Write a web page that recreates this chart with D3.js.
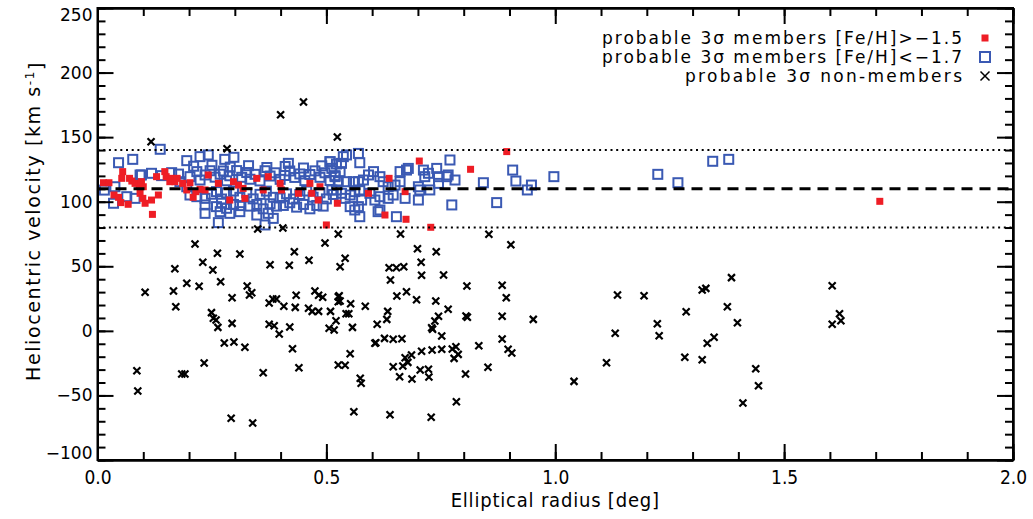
<!DOCTYPE html>
<html>
<head>
<meta charset="utf-8">
<script src="https://d3js.org/d3.v7.min.js"></script>
<style>
body { margin: 0; background: #fff; }
svg { display: block; }
.axis path, .axis line { stroke: #000; stroke-width: 2; }
.axis text { fill: #000; }
</style>
</head>
<body>
<script>
// tick labels
var xTicks = [0, 0.5, 1.0, 1.5, 2.0];
var yTicks = [-100, -50, 0, 50, 100, 150, 200, 250];

// systemic velocity and the 3 sigma band
var vSys = 110, vLow = 80, vHigh = 140;

// legend text
var legendLabels = [
    "probable 3\u03c3 members [Fe/H]>\u22121.5",
    "probable 3\u03c3 members [Fe/H]<\u22121.7",
    "probable 3\u03c3 non-members"
];

// probable members with [Fe/H] > -1.5 : [elliptical radius (deg), velocity (km/s)]
var metalRich = [
    [0.013,114.7],[0.025,114.7],[0.036,105.2],[0.046,103.4],[0.051,99.3],[0.067,98.0],
    [0.055,123.3],[0.053,118.1],[0.070,118.1],[0.075,116.0],[0.082,114.2],[0.091,112.9],
    [0.096,115.5],[0.100,111.6],[0.093,106.5],[0.099,102.6],[0.104,98.8],[0.118,101.3],
    [0.120,90.2],[0.133,105.2],[0.129,119.4],[0.147,123.3],[0.150,119.4],[0.158,115.5],
    [0.162,118.1],[0.169,115.5],[0.174,118.1],[0.186,114.2],[0.195,109.1],[0.202,114.7],
    [0.209,103.4],[0.215,107.8],[0.224,109.6],[0.235,109.1],[0.242,120.7],[0.264,114.2],
    [0.289,101.3],[0.297,115.5],[0.308,112.9],[0.318,110.3],[0.322,102.6],[0.348,118.1],
    [0.362,109.1],[0.373,119.4],[0.399,114.2],[0.402,109.1],[0.439,106.5],[0.464,114.2],
    [0.468,106.5],[0.482,101.3],[0.486,111.6],[0.500,82.0],[0.524,98.8],[0.592,106.5],
    [0.637,118.1],[0.672,107.8],[0.628,89.7],[0.674,86.4],[0.703,131.5],[0.728,80.2],
    [0.815,125.1],[0.894,138.8],[1.709,100.3]
];

// probable members with [Fe/H] < -1.7
var metalPoor = [
    [0.137,140.6],[0.046,130.2],[0.077,132.8],[0.096,120.7],[0.195,131.8],[0.224,134.9],
    [0.242,136.2],[0.278,132.8],[0.298,134.4],[0.417,129.7],[0.508,131.0],[0.522,129.2],
    [0.015,109.0],[0.035,98.8],[0.038,111.6],[0.064,103.9],[0.082,102.6],[0.093,120.7],
    [0.118,122.0],[0.140,120.2],[0.162,122.5],[0.177,121.4],[0.180,115.5],[0.195,111.6],
    [0.202,119.4],[0.217,123.3],[0.224,116.8],[0.235,120.7],[0.246,124.0],[0.257,119.0],
    [0.268,121.3],[0.275,123.8],[0.282,116.2],[0.289,120.1],[0.304,124.1],[0.315,118.9],
    [0.326,122.6],[0.333,117.4],[0.344,121.2],[0.355,116.1],[0.366,124.0],[0.377,119.9],
    [0.388,122.4],[0.399,117.3],[0.409,120.3],[0.420,123.8],[0.431,118.8],[0.442,121.5],
    [0.453,116.3],[0.464,121.1],[0.475,123.9],[0.486,118.9],[0.497,122.4],[0.508,116.4],
    [0.519,120.2],[0.210,127.5],[0.250,128.2],[0.290,126.8],[0.330,127.9],[0.370,126.5],
    [0.410,127.3],[0.450,126.1],[0.490,127.8],
    [0.202,105.2],[0.217,103.9],[0.235,102.6],[0.249,105.8],[0.260,107.8],[0.271,102.1],
    [0.282,106.9],[0.297,108.3],[0.311,103.4],[0.326,106.9],[0.340,102.2],[0.355,105.7],
    [0.369,108.2],[0.384,103.4],[0.399,102.9],[0.413,106.1],[0.428,102.1],[0.442,105.6],
    [0.457,108.3],[0.471,103.5],[0.486,106.9],[0.500,102.2],[0.515,105.6],
    [0.235,97.5],[0.260,96.2],[0.271,98.8],[0.282,94.9],[0.297,97.9],[0.311,97.0],
    [0.333,96.6],[0.348,97.9],[0.362,94.5],[0.377,98.4],[0.391,96.6],[0.406,97.1],
    [0.420,99.2],[0.435,95.8],[0.450,97.9],[0.464,94.5],[0.479,97.1],[0.493,96.6],
    [0.235,91.0],[0.268,92.3],[0.264,83.8],[0.289,91.0],[0.311,92.3],[0.348,89.7],
    [0.373,91.0],[0.384,87.1],[0.366,82.0],
    [0.508,131.0],[0.512,125.8],[0.519,119.4],[0.526,115.5],[0.530,123.3],[0.533,129.7],
    [0.537,134.9],[0.544,136.2],[0.570,137.4],[0.573,130.2],[0.512,109.1],[0.522,109.1],
    [0.533,106.5],[0.541,102.6],[0.552,105.2],[0.562,107.8],[0.573,109.1],[0.577,101.3],
    [0.552,96.2],[0.562,93.6],[0.570,96.2],[0.573,88.4],[0.544,115.5],[0.559,115.5],
    [0.570,115.5],[0.581,116.8],[0.592,120.7],[0.603,123.3],[0.617,119.4],[0.624,115.5],
    [0.635,111.6],[0.650,112.9],[0.661,115.5],[0.661,123.3],[0.675,124.5],[0.679,125.8],
    [0.646,105.2],[0.635,102.6],[0.617,103.9],[0.606,101.3],[0.595,106.5],[0.617,93.6],
    [0.653,88.4],[0.613,92.3],[0.672,102.6],[0.701,111.6],[0.701,101.3],[0.704,109.1],
    [0.712,124.5],[0.723,122.0],[0.715,119.4],[0.726,109.1],[0.741,125.8],[0.745,119.4],
    [0.745,114.2],[0.763,119.4],[0.766,120.7],[0.770,132.3],[0.781,116.8],[0.774,97.5],
    [0.843,114.7],[0.872,99.3],[0.907,124.5],[0.914,116.0],[0.939,109.1],[0.948,112.9],
    [0.997,119.4],[1.224,121.2],[1.268,114.7],[1.344,131.3],[1.379,132.8]
];

// probable non-members
var nonMembers = [
    [0.213,67.3],[0.262,60.1],[0.311,59.5],[0.230,53.1],[0.169,48.1],[0.252,47.1],
    [0.430,61.3],[0.377,51.2],[0.419,50.8],[0.462,54.6],[0.497,68.0],[0.526,75.0],
    [0.195,36.8],[0.222,34.5],[0.269,38.1],[0.104,29.9],[0.166,30.9],[0.171,18.7],
    [0.294,25.7],[0.327,34.7],[0.337,29.5],[0.332,27.8],[0.375,21.6],[0.383,24.7],
    [0.391,24.7],[0.407,19.0],[0.434,27.5],[0.432,18.2],[0.461,17.5],[0.469,15.1],
    [0.483,15.1],[0.475,30.9],[0.483,27.5],[0.492,26.0],[0.509,15.1],[0.526,26.4],
    [0.526,22.6],[0.521,7.9],[0.506,2.0],[0.517,0.7],[0.249,14.1],[0.253,9.7],
    [0.259,8.4],[0.263,2.7],[0.294,5.8],[0.375,5.1],[0.386,4.0],[0.397,-2.4],
    [0.420,3.0],[0.277,-9.4],[0.298,-8.6],[0.322,-12.7],[0.426,-13.8],[0.233,-24.9],
    [0.086,-30.9],[0.184,-33.4],[0.191,-33.4],[0.362,-32.4],[0.440,-28.5],[0.526,-26.4],
    [0.088,-46.6],[0.292,-67.7],[0.339,-71.4],
    [0.662,75.0],[0.855,74.8],[0.903,66.7],[0.699,63.6],[0.740,61.3],[0.541,56.2],
    [0.530,49.7],[0.637,48.9],[0.653,48.9],[0.669,49.7],[0.707,53.1],[0.640,39.4],
    [0.708,43.0],[0.756,43.3],[0.807,34.7],[0.884,35.3],[0.893,25.7],[0.528,27.2],
    [0.530,23.1],[0.553,21.0],[0.585,19.0],[0.654,27.0],[0.675,30.3],[0.697,24.1],
    [0.739,23.1],[0.766,16.7],[0.634,15.1],[0.632,8.9],[0.543,13.3],[0.549,13.3],
    [0.557,2.7],[0.611,5.1],[0.745,11.3],[0.737,7.6],[0.730,2.4],[0.732,1.2],
    [0.805,11.5],[0.808,10.5],[0.884,11.3],[0.952,8.9],[0.752,-4.0],[0.606,-9.6],
    [0.608,-9.2],[0.627,-5.8],[0.646,-6.5],[0.665,-6.1],[0.884,-6.3],[0.552,-17.7],
    [0.833,-11.5],[0.775,-14.1],[0.783,-12.3],[0.788,-18.2],[0.779,-21.3],[0.752,-14.3],
    [0.731,-14.8],[0.708,-15.8],[0.686,-18.7],[0.672,-20.8],[0.678,-24.4],[0.667,-27.2],
    [0.897,-14.3],[0.905,-17.2],[0.541,-26.7],[0.646,-27.8],[0.705,-30.3],[0.723,-29.8],
    [0.724,-35.7],[0.660,-35.5],[0.687,-37.3],[0.804,-33.4],[0.853,-28.2],[0.574,-36.7],
    [0.576,-40.6],[1.041,-39.1],[0.784,-54.9],[0.560,-62.6],[0.639,-64.9],[0.729,-66.9],
    [1.385,41.2],[1.321,31.6],[1.329,32.9],[1.136,27.8],[1.194,27.2],[1.605,35.0],
    [1.286,14.8],[1.376,18.7],[1.398,6.3],[1.223,5.5],[1.227,-3.8],[1.131,-1.9],
    [1.621,13.3],[1.624,7.9],[1.605,5.1],[1.347,-5.0],[1.332,-9.6],[1.112,-24.7],
    [1.283,-20.5],[1.321,-22.3],[1.438,-29.3],[1.444,-42.5],[1.410,-55.9],
    [0.450,177.2],[0.400,167.4],[0.524,150.1],[0.117,146.5],[0.283,141.0],[0.350,78.9],
    [0.405,79.6]
];

// set the dimensions and margins of the graph
var margin = {top: 8, right: 20, bottom: 59, left: 97.5},
    width = 1033 - margin.left - margin.right,
    height = 519 - margin.top - margin.bottom;

var blue = "#3a59b3", red = "#ee1d25";
var sans = "'DejaVu Sans', Verdana, sans-serif";
var narrow = "'Liberation Sans Narrow', 'DejaVu Sans Condensed', sans-serif";

// set the ranges
var x = d3.scaleLinear().domain([0, 2]).range([0, width]);
var y = d3.scaleLinear().domain([-100, 250]).range([height, 0]);

var svg = d3.select('body')
            .append('svg')
            .attr('width', 1033)
            .attr('height', 519)
            .append('g')
            .attr('transform', 'translate(' + margin.left + ',' + margin.top + ')');

// blue squares first, red on top of them
svg.append('g')
    .selectAll('rect')
    .data(metalPoor)
    .enter()
    .append('rect')
      .attr('x', function(d) { return x(d[0]) - 4.5; })
      .attr('y', function(d) { return y(d[1]) - 4.5; })
      .attr('width', 9)
      .attr('height', 9)
      .attr('fill', 'none')
      .attr('stroke', blue)
      .attr('stroke-width', 2);

svg.append('g')
    .selectAll('rect')
    .data(metalRich)
    .enter()
    .append('rect')
      .attr('x', function(d) { return x(d[0]) - 3.5; })
      .attr('y', function(d) { return y(d[1]) - 3.5; })
      .attr('width', 7)
      .attr('height', 7)
      .attr('fill', red);

// systemic velocity (dashed) and 3 sigma limits (dotted)
svg.append('line')
    .attr('x1', 0).attr('x2', width)
    .attr('y1', y(vSys)).attr('y2', y(vSys))
    .attr('stroke', '#000')
    .attr('stroke-width', 3)
    .attr('stroke-dasharray', '11,7');

[vLow, vHigh].forEach(function(v) {
    svg.append('line')
        .attr('x1', 0).attr('x2', width)
        .attr('y1', y(v)).attr('y2', y(v))
        .attr('stroke', '#000')
        .attr('stroke-width', 2)
        .attr('stroke-dasharray', '2,3.7');
});

// crosses for non-members
var cross = 'M-3.5,-3.5L3.5,3.5M-3.5,3.5L3.5,-3.5';
svg.append('g')
    .selectAll('path')
    .data(nonMembers)
    .enter()
    .append('path')
      .attr('transform', function(d) { return 'translate(' + x(d[0]) + ',' + y(d[1]) + ')'; })
      .attr('d', cross)
      .attr('stroke', '#000')
      .attr('stroke-width', 2.2)
      .attr('fill', 'none');

// minor ticks on all four sides
var xMinor = d3.range(0, 2.001, 0.1);
var yMinor = d3.range(-100, 250.001, 10);

svg.append('g').attr('class', 'axis')
    .attr('transform', 'translate(0,' + height + ')')
    .call(d3.axisBottom(x).tickValues(xMinor).tickSize(-8).tickSizeOuter(0).tickFormat(''));
svg.append('g').attr('class', 'axis')
    .call(d3.axisTop(x).tickValues(xMinor).tickSize(-8).tickSizeOuter(0).tickFormat(''));
svg.append('g').attr('class', 'axis')
    .call(d3.axisLeft(y).tickValues(yMinor).tickSize(-8).tickSizeOuter(0).tickFormat(''));
svg.append('g').attr('class', 'axis')
    .attr('transform', 'translate(' + width + ',0)')
    .call(d3.axisRight(y).tickValues(yMinor).tickSize(-8).tickSizeOuter(0).tickFormat(''));

// major ticks + labels
var xAxis = svg.append('g').attr('class', 'axis')
    .attr('transform', 'translate(0,' + height + ')')
    .call(d3.axisBottom(x).tickValues(xTicks).tickSize(-16).tickSizeOuter(0)
        .tickPadding(11).tickFormat(d3.format('.1f')));
xAxis.selectAll('text')
    .style('font-family', narrow)
    .style('font-size', '19px');

svg.append('g').attr('class', 'axis')
    .call(d3.axisTop(x).tickValues(xTicks).tickSize(-16).tickSizeOuter(0).tickFormat(''));

var yAxis = svg.append('g').attr('class', 'axis')
    .call(d3.axisLeft(y).tickValues(yTicks).tickSize(-16).tickSizeOuter(0).tickPadding(5));
yAxis.selectAll('text')
    .style('font-family', sans)
    .style('font-size', '17px')
    .attr('dy', function(d) { return d == 250 ? '0.75em' : (d == -100 ? '-0.1em' : '0.32em'); });

svg.append('g').attr('class', 'axis')
    .attr('transform', 'translate(' + width + ',0)')
    .call(d3.axisRight(y).tickValues(yTicks).tickSize(-16).tickSizeOuter(0).tickFormat(''));

// frame
svg.append('rect')
    .attr('width', width)
    .attr('height', height)
    .attr('fill', 'none')
    .attr('stroke', '#000')
    .attr('stroke-width', 2);

// text label for the x axis
svg.append('text')
    .attr('x', x(1.0))
    .attr('y', height + 47)
    .style('text-anchor', 'middle')
    .style('font-family', narrow)
    .style('font-size', '20px')
    .style('letter-spacing', '0.8px')
    .text('Elliptical radius [deg]');

// text label for the y axis
var yLabel = svg.append('text')
    .attr('transform', 'rotate(-90)')
    .attr('x', 0 - 213)
    .attr('y', 33 - margin.left)
    .attr('dy', '0.35em')
    .style('text-anchor', 'middle')
    .style('font-family', sans)
    .style('font-size', '19px')
    .style('letter-spacing', '1.6px');
yLabel.append('tspan').text('Heliocentric velocity [km s');
yLabel.append('tspan').attr('dy', '-0.45em').style('font-size', '12px').text('-1');
yLabel.append('tspan').attr('dy', '0.45em').text(']');

// legend
var legend = svg.append('g')
    .attr('transform', 'translate(' + (962 - margin.left) + ',' + (38 - margin.top) + ')');

var legendWidths = [360, 360, 277];
legendLabels.forEach(function(t, i) {
    legend.append('text')
        .attr('x', -legendWidths[i])
        .attr('y', i * 19)
        .attr('dy', '0.35em')
        .attr('textLength', legendWidths[i])
        .attr('lengthAdjust', 'spacing')
        .style('font-family', sans)
        .style('font-size', '17px')
        .text(t);
});

legend.append('rect')
    .attr('x', 23 - 3.5).attr('y', -3.5)
    .attr('width', 7).attr('height', 7)
    .attr('fill', red);
legend.append('rect')
    .attr('x', 23 - 5).attr('y', 19 - 5)
    .attr('width', 10).attr('height', 10)
    .attr('fill', 'none')
    .attr('stroke', blue)
    .attr('stroke-width', 2);
legend.append('path')
    .attr('transform', 'translate(23,38)')
    .attr('d', 'M-4.5,-4.5L4.5,4.5M-4.5,4.5L4.5,-4.5')
    .attr('stroke', '#000')
    .attr('stroke-width', 1.5);
</script>
</body>
</html>
